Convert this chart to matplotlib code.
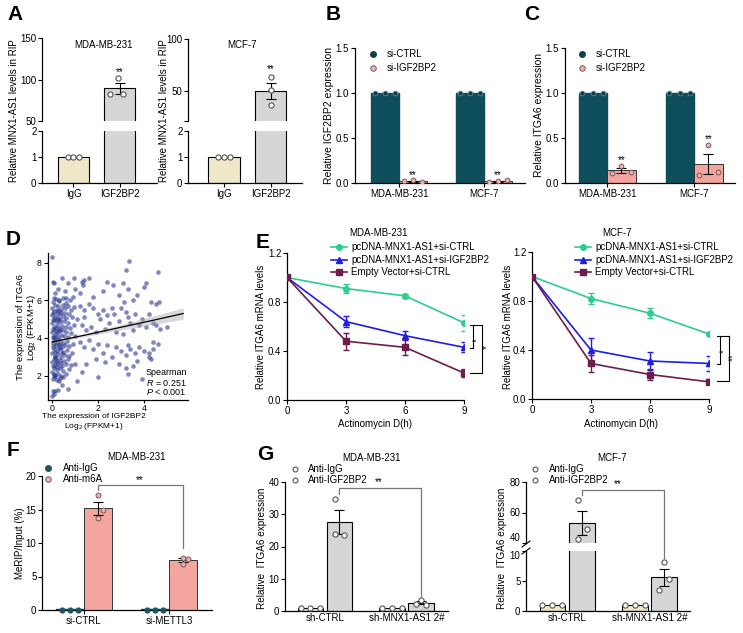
import matplotlib.pyplot as plt
import numpy as np
from matplotlib.lines import Line2D

plt.rcParams['font.family'] = ['Liberation Sans', 'DejaVu Sans']
plt.rcParams['mathtext.fontset'] = 'custom'
plt.rcParams['mathtext.rm'] = 'Liberation Sans'
plt.rcParams['mathtext.it'] = 'Liberation Sans:italic'
plt.rcParams['axes.linewidth'] = 0.9

# ---------------- data ----------------
# A: RIP, MNX1-AS1
a_groups = ['IgG', 'IGF2BP2']
a_mda_mean = [1.0, 89.3]
a_mda_sem = [0.0, 6.5]
a_mda_pts = [[1.0, 1.0, 1.0], [83.0, 102.0, 83.0]]
a_mcf_mean = [1.0, 50.0]
a_mcf_sem = [0.0, 8.0]
a_mcf_pts = [[1.0, 1.0, 1.0], [63.0, 51.0, 36.0]]

# B / C: si-CTRL vs si-IGF2BP2
bc_groups = ['MDA-MB-231', 'MCF-7']
b_ctrl = [1.0, 1.0]
b_si = [0.02, 0.02]
b_si_sem = [0.005, 0.005]
b_si_pts = [[0.02, 0.03, 0.01], [0.01, 0.02, 0.03]]
c_ctrl = [1.0, 1.0]
c_si = [0.14, 0.21]
c_si_sem = [0.03, 0.11]
c_si_pts = [[0.11, 0.19, 0.12], [0.09, 0.42, 0.12]]

# D: scatter IGF2BP2 vs ITGA6
d_pts = [
    (0.0, 8.3), (3.35, 8.1), (3.2, 7.6), (4.6, 7.5), (0.05, 7.0), (0.1, 6.9),
    (0.25, 6.6), (0.15, 6.4), (0.45, 7.2), (0.55, 6.5), (0.7, 6.9), (0.95, 7.2),
    (1.0, 6.6), (1.3, 7.0), (1.4, 7.1), (1.6, 7.2), (1.35, 6.8), (1.2, 6.4),
    (1.8, 6.2), (2.4, 7.0), (2.65, 6.8), (3.1, 6.9), (3.3, 6.6), (4.0, 6.7),
    (4.1, 6.9), (3.7, 6.3), (2.9, 6.3), (2.2, 6.5), (3.5, 6.0), (3.15, 5.9),
    (4.3, 5.9), (4.5, 5.8), (4.65, 5.9), (0.9, 6.2), (0.3, 6.0), (0.6, 6.1),
    (1.2, 5.7), (1.4, 5.5), (1.6, 5.8), (1.8, 5.6), (2.0, 5.3), (2.2, 5.5),
    (2.4, 5.2), (2.1, 5.0), (2.6, 5.6), (2.7, 5.3), (2.5, 4.8), (2.9, 4.9),
    (3.0, 5.6), (3.2, 5.4), (3.3, 5.1), (3.4, 4.8), (3.6, 5.3), (3.8, 4.7),
    (3.9, 5.0), (4.2, 5.3), (4.1, 4.6), (4.4, 4.8), (4.5, 4.7), (4.7, 4.5),
    (5.0, 4.6), (1.3, 4.7), (1.5, 4.4), (1.7, 4.6), (1.9, 4.3), (2.3, 4.5),
    (2.8, 4.3), (3.1, 4.2), (3.5, 4.4), (1.1, 5.0), (1.4, 5.1),
    (1.2, 3.8), (1.4, 3.5), (1.6, 3.9), (1.8, 3.4), (2.0, 3.7), (2.2, 3.2),
    (2.4, 3.6), (2.6, 3.0), (2.8, 3.5), (3.0, 3.3), (3.2, 3.1), (3.3, 3.6),
    (3.4, 3.4), (3.6, 3.2), (3.8, 3.5), (4.0, 3.3), (4.2, 3.0), (4.4, 3.4),
    (4.6, 3.7), (4.3, 2.9), (3.7, 2.8), (3.5, 2.5), (3.2, 2.4), (3.9, 1.8),
    (3.3, 2.1), (2.0, 1.9), (1.5, 2.6), (1.3, 2.2), (1.1, 1.7), (1.0, 2.6),
    (1.9, 2.9), (2.3, 2.7), (2.9, 2.6), (4.2, 3.2), (4.4, 3.8),
    (0.0, 0.9), (0.1, 1.0), (0.05, 1.2), (0.15, 1.2), (0.25, 1.25), (0.7, 1.3),
    (0.45, 1.5), (0.3, 1.7),
    (0.05, 5.9), (0.18, 6.05), (0.32, 5.95), (0.5, 6.1), (0.62, 5.85), (0.78, 6.0),
    (0.1, 6.15), (0.02, 5.6), (0.12, 5.75), (0.22, 5.5), (0.28, 5.7), (0.38, 5.55),
    (0.46, 5.78), (0.58, 5.6), (0.7, 5.72), (0.85, 5.5), (0.95, 5.65), (0.08, 5.45),
    (0.0, 5.2), (0.06, 5.35), (0.14, 5.1), (0.2, 5.3), (0.27, 5.05), (0.33, 5.25),
    (0.41, 5.4), (0.48, 5.15), (0.55, 5.32), (0.63, 5.05), (0.74, 5.25), (0.88, 5.1),
    (0.1, 5.0), (0.36, 5.0), (0.02, 4.8), (0.09, 4.6), (0.16, 4.9), (0.23, 4.7),
    (0.3, 4.55), (0.37, 4.85), (0.44, 4.65), (0.52, 4.9), (0.6, 4.6), (0.68, 4.78),
    (0.8, 4.55), (0.95, 4.7), (0.05, 4.5), (0.26, 4.95), (0.0, 4.3), (0.07, 4.1),
    (0.13, 4.4), (0.19, 4.2), (0.25, 4.05), (0.31, 4.35), (0.39, 4.15), (0.46, 4.42),
    (0.54, 4.1), (0.62, 4.3), (0.72, 4.05), (0.84, 4.25), (1.0, 4.1), (0.11, 4.0),
    (0.35, 4.45), (0.03, 3.7), (0.1, 3.9), (0.17, 3.55), (0.22, 3.8), (0.29, 3.6),
    (0.35, 3.9), (0.42, 3.5), (0.49, 3.75), (0.57, 3.6), (0.66, 3.85), (0.76, 3.55),
    (0.9, 3.7), (0.06, 3.5), (0.2, 3.95), (0.0, 3.2), (0.08, 3.4), (0.14, 3.05),
    (0.21, 3.3), (0.27, 3.15), (0.34, 3.42), (0.4, 3.0), (0.47, 3.25), (0.56, 3.1),
    (0.64, 3.35), (0.73, 3.05), (0.86, 3.2), (0.12, 3.0), (0.3, 3.45), (0.02, 2.7),
    (0.09, 2.9), (0.15, 2.55), (0.22, 2.8), (0.28, 2.6), (0.36, 2.85), (0.43, 2.5),
    (0.51, 2.75), (0.6, 2.6), (0.7, 2.9), (0.82, 2.55), (0.05, 2.5), (0.18, 2.95),
    (0.0, 2.2), (0.07, 2.4), (0.13, 2.05), (0.2, 2.3), (0.26, 2.1), (0.33, 2.38),
    (0.41, 2.0), (0.5, 2.25), (0.6, 2.1), (0.75, 2.35), (0.1, 2.0), (0.24, 2.45),
    (0.03, 1.8), (0.12, 1.9), (0.22, 1.75), (0.35, 1.85), (0.5, 1.9),
    (0.04, 4.95), (0.16, 4.55), (0.24, 4.3), (0.33, 3.7), (0.12, 3.25), (0.19, 2.7),
    (0.07, 2.1), (0.28, 5.45), (0.44, 3.2), (0.39, 2.65), (0.15, 3.75), (0.05, 4.05),
]
reg_x = [0.0, 0.5, 1.5, 3.0, 4.5, 5.7]
reg_y = [3.78, 3.91, 4.17, 4.57, 4.97, 5.3]
reg_w = [0.08, 0.06, 0.08, 0.15, 0.23, 0.3]

# E: actinomycin D decay
e_time = [0, 3, 6, 9]
e_labels = ['pcDNA-MNX1-AS1+si-CTRL', 'pcDNA-MNX1-AS1+si-IGF2BP2', 'Empty Vector+si-CTRL']
e_mda = [[1.0, 0.91, 0.85, 0.63], [1.0, 0.64, 0.525, 0.43], [1.0, 0.48, 0.43, 0.22]]
e_mda_sem = [[0, 0.04, 0.015, 0.065], [0, 0.045, 0.035, 0.04], [0, 0.07, 0.065, 0.035]]
e_mcf = [[1.0, 0.82, 0.70, 0.53], [1.0, 0.40, 0.31, 0.29], [1.0, 0.29, 0.20, 0.14]]
e_mcf_sem = [[0, 0.045, 0.04, 0.005], [0, 0.095, 0.07, 0.06], [0, 0.07, 0.045, 0.02]]

# F: MeRIP
f_groups = ['si-CTRL', 'si-METTL3']
f_igg = [0.1, 0.1]
f_m6a = [15.2, 7.4]
f_m6a_sem = [0.95, 0.3]
f_m6a_pts = [[13.7, 17.1, 15.0], [6.9, 7.8, 7.6]]

# G: RIP ITGA6
g_groups = ['sh-CTRL', 'sh-MNX1-AS1 2#']
g_mda_igg = [1.0, 1.0]
g_mda_ab = [27.6, 2.5]
g_mda_sem = [3.6, 0.45]
g_mda_pts = [[24.0, 34.8, 23.5], [2.2, 3.5, 2.0]]
g_mcf_igg = [1.0, 1.0]
g_mcf_ab = [53.3, 5.6]
g_mcf_sem = [7.8, 1.35]
g_mcf_pts = [[42.9, 68.4, 48.9], [3.5, 8.1, 5.3]]

# ---------------- style ----------------
beige = '#EEE8C8'
grey = '#D6D6D6'
teal = '#0E4D5C'
pink = '#F5A5A0'
pink_pt = '#E9B3B3'
e_colors = ['#2ECC8F', '#1E1EE6', '#6B1D4E']
e_markers = ['o', '^', 's']
jit = [-0.12, 0.0, 0.12]

W, H = 743, 633
fig = plt.figure(figsize=(W / 100, H / 100), dpi=100)


def box(l, t, r, b):
    return fig.add_axes([l / W, 1 - b / H, (r - l) / W, (b - t) / H])


def style(ax, fs=7):
    ax.spines['top'].set_visible(False)
    ax.spines['right'].set_visible(False)
    ax.tick_params(labelsize=fs, length=3, width=0.8, pad=1.5)


def ftext(x, y, s, **kw):
    kw.setdefault('fontsize', 7)
    kw.setdefault('ha', 'center')
    kw.setdefault('va', 'center')
    fig.text(x / W, 1 - y / H, s, **kw)


def fline(xs, ys, **kw):
    fig.add_artist(Line2D([x / W for x in xs], [1 - y / H for y in ys],
                          transform=fig.transFigure, **kw))


def dots(ax, x, vals, offs, **kw):
    kw.setdefault('clip_on', True)
    ax.scatter([x + o for o in offs], vals, zorder=5, **kw)


def panel_letter(x, y, s):
    ftext(x, y, s, fontsize=15, fontweight='bold')


hollow = dict(s=14, facecolor='white', edgecolor='#555555', linewidths=0.8)
err_kw = dict(fmt='none', ecolor='black', elinewidth=0.8, capsize=3.5, capthick=0.8, zorder=4)

# ---------------- A ----------------
def panel_a(l, r, up_tb, lo_tb, ylim_up, yt_up, ytl_up, xlim, mean, sem, pts, offs, star_y):
    up = box(l, up_tb[0], r, up_tb[1])
    lo = box(l, lo_tb[0], r, lo_tb[1])
    x = np.arange(len(a_groups))
    for ax in (up, lo):
        ax.bar(x, mean, width=0.667, color=[beige, grey], edgecolor='black', linewidth=0.8)
        ax.errorbar(x[1:], mean[1:], yerr=sem[1:], **err_kw)
        for i in x:
            dots(ax, i, pts[i], offs[i], **hollow)
        ax.set_xlim(xlim)
        style(ax)
        ax.tick_params(axis='y', pad=1)
    up.set_ylim(ylim_up)
    up.set_yticks(yt_up, ytl_up)
    up.spines['bottom'].set_visible(False)
    up.tick_params(axis='x', bottom=False, labelbottom=False)
    lo.set_ylim(0, 2)
    lo.set_yticks([0, 1, 2])
    lo.set_xticks(x, a_groups)
    up.text(1, star_y, '**', ha='center', va='bottom', fontsize=7)


panel_a(42, 157, (38, 121), (131, 183), (50, 150), [50, 100, 150], ['50', '100', '150'],
        (-0.677, 1.796), a_mda_mean, a_mda_sem, a_mda_pts,
        [jit, [-0.21, -0.04, 0.07]], 103)
panel_a(188, 302, (39, 121), (131, 183), (21, 100), [21, 50, 100], ['', '50', '100'],
        (-0.774, 1.677), a_mcf_mean, a_mcf_sem, a_mcf_pts,
        [jit, [0, 0, 0]], 66)
ftext(104, 45, 'MDA-MB-231')
ftext(242, 45, 'MCF-7')
ftext(14, 111, 'Relative MNX1-AS1 levels in RIP', rotation=90, fontsize=7)
ftext(164, 111, 'Relative MNX1-AS1 levels in RIP', rotation=90, fontsize=7)
panel_letter(15, 15, 'A')


# ---------------- B / C ----------------
def panel_bc(l, r, ctrl, si, sem, pts, ylab, ylab_x, leg_x, star_off):
    ax = box(l, 48, r, 183)
    x = np.arange(len(bc_groups))
    ax.bar(x - 0.165, ctrl, width=0.325, color=teal, edgecolor=teal)
    ax.bar(x + 0.165, si, width=0.325, color=pink, edgecolor='#333333', linewidth=0.7)
    ax.errorbar(x + 0.165, si, yerr=sem, **err_kw)
    for i in x:
        dots(ax, i - 0.165, [ctrl[i]] * 3, jit, s=12, color='#103F4C', edgecolors='#6E8E96', linewidths=0.5)
        dots(ax, i + 0.165, pts[i], [o * 0.9 for o in jit], s=12, facecolor=pink_pt,
             edgecolors='#6A4A4A', linewidths=0.6)
        ax.text(i + 0.165, max(pts[i]) + star_off, '**', ha='center', va='bottom', fontsize=7)
    ax.set_ylim(0, 1.5)
    ax.set_yticks([0, 0.5, 1.0, 1.5], ['0.0', '0.5', '1.0', '1.5'])
    ax.set_xticks(x, bc_groups)
    ax.tick_params(axis='x', length=0)
    style(ax)
    ftext(ylab_x, 115, ylab, rotation=90, fontsize=7.5)
    fline([leg_x], [54], marker='o', ms=4, color='#103F4C', mec='#103F4C')
    fline([leg_x], [68], marker='o', ms=4, color=pink_pt, mec='#6A4A4A', mew=0.6)
    ftext(leg_x + 14, 54, 'si-CTRL', ha='left')
    ftext(leg_x + 14, 68, 'si-IGF2BP2', ha='left')
    return ax


axb = panel_bc(355, 525, b_ctrl, b_si, b_si_sem, b_si_pts, 'Relative IGF2BP2 expression', 329, 373, 0.0)
axb.set_xlim(-0.518, 1.48)
axc = panel_bc(565, 735, c_ctrl, c_si, c_si_sem, c_si_pts, 'Relative ITGA6 expression', 539, 582, 0.01)
axc.set_xlim(-0.483, 1.471)
panel_letter(333, 15, 'B')
panel_letter(532, 15, 'C')

# ---------------- D ----------------
axd = box(48, 253, 188, 400)
d_x, d_y = zip(*d_pts)
axd.scatter(d_x, d_y, s=11, color='#2B3990', alpha=0.6, linewidths=0)
axd.fill_between(reg_x, np.array(reg_y) - np.array(reg_w), np.array(reg_y) + np.array(reg_w),
                 color='#AAAAAA', alpha=0.45, lw=0)
axd.plot(reg_x, reg_y, color='black', lw=0.9)
axd.set_xlim(-0.17, 5.91)
axd.set_ylim(0.7, 8.52)
axd.set_xticks([0, 2, 4])
axd.set_yticks([2, 4, 6, 8])
style(axd, 6.3)
axd.tick_params(axis='x', pad=0.5, length=2.5)
axd.text(5.86, 2.17, 'Spearman', ha='right', va='center', fontsize=6.5)
axd.text(5.86, 1.62, '$R$ = 0.251', ha='right', va='center', fontsize=6.5)
axd.text(5.86, 1.11, '$P$ < 0.001', ha='right', va='center', fontsize=6.5)
ftext(21, 327, 'The expression of ITGA6', rotation=90, fontsize=6.8)
ftext(31, 327, 'Log$_2$ (FPKM+1)', rotation=90, fontsize=6.8)
ftext(94, 417, 'The expression of IGF2BP2', fontsize=6)
ftext(94, 427, 'Log$_2$ (FPKM+1)', fontsize=6)
panel_letter(13, 240, 'D')


# ---------------- E ----------------
def panel_e(l, t, r, b, series, sems, title, tx, leg_x, ylab_x):
    ax = box(l, t, r, b)
    for k in range(3):
        ax.errorbar(e_time, series[k], yerr=sems[k], color=e_colors[k], marker=e_markers[k],
                    ms=4, lw=1.2, elinewidth=1, capsize=2.5, capthick=1, zorder=3 + k)
    ax.set_xlim(0, 9)
    ax.set_ylim(0, 1.2)
    ax.set_xticks(e_time)
    ax.set_yticks([0, 0.4, 0.8, 1.2], ['0.0', '0.4', '0.8', '1.2'])
    style(ax)
    ax.tick_params(axis='y', pad=1)
    ftext(tx, 233, title)
    for k in range(3):
        y = 247 + 12.5 * k
        fline([leg_x - 8, leg_x, leg_x + 8], [y, y, y], color=e_colors[k], lw=1.2,
              marker=e_markers[k], ms=4, markevery=[1])
        ftext(leg_x + 12, y, e_labels[k], ha='left')
    ftext(ylab_x, 327, 'Relative ITGA6 mRNA levels', rotation=90, fontsize=7)
    ftext((l + r) / 2, 424, 'Actinomycin D(h)')
    return ax


axe1 = panel_e(287, 253, 464, 400, e_mda, e_mda_sem, 'MDA-MB-231', 379, 339, 261)
br = dict(color='black', lw=0.8, clip_on=False)
axe1.plot([9.30, 9.92], [0.612, 0.612], **br)
axe1.plot([9.46, 9.46, 9.30], [0.612, 0.424, 0.424], **br)
axe1.plot([9.92, 9.92, 9.30], [0.612, 0.22, 0.22], **br)
axe1.text(9.68, 0.49, '*', fontsize=7, ha='center', va='center', rotation=90)
axe1.text(10.15, 0.435, '*', fontsize=7, ha='center', va='center', rotation=90)

axe2 = panel_e(532, 252, 709, 399, e_mcf, e_mcf_sem, 'MCF-7', 617, 583, 508)
axe2.plot([9.41, 10.0], [0.514, 0.514], **br)
axe2.plot([9.56, 9.56, 9.41], [0.514, 0.286, 0.286], **br)
axe2.plot([10.0, 10.0, 9.41], [0.514, 0.147, 0.147], **br)
axe2.text(9.75, 0.39, '*', fontsize=7, ha='center', va='center', rotation=90)
axe2.text(10.22, 0.345, '**', fontsize=7, ha='center', va='center', rotation=90)
panel_letter(263, 242, 'E')

# ---------------- F ----------------
axf = box(42, 476, 212, 610)
xf = np.arange(len(f_groups))
axf.bar(xf - 0.165, f_igg, width=0.32, color=teal, edgecolor=teal)
axf.bar(xf + 0.165, f_m6a, width=0.32, color=pink, edgecolor='#333333', linewidth=0.7)
axf.errorbar(xf + 0.165, f_m6a, yerr=f_m6a_sem, **err_kw)
for i in xf:
    dots(axf, i - 0.165, [0.0] * 3, [-0.09, 0, 0.09], s=12, color='#1F5563', clip_on=False)
    dots(axf, i + 0.165, f_m6a_pts[i], [0.0, 0.0, 0.06], s=13, facecolor=pink_pt,
         edgecolors='#6A4A4A', linewidths=0.6)
axf.set_xlim(-0.494, 1.506)
axf.set_ylim(0, 20)
axf.set_yticks([0, 5, 10, 15, 20])
axf.set_xticks(xf, f_groups)
axf.tick_params(axis='x', length=0)
style(axf)
axf.tick_params(axis='y', pad=1)
axf.plot([0.165, 0.165, 1.165, 1.165], [17.9, 18.66, 18.66, 9.25], color='#777777', lw=0.9)
axf.text(0.66, 18.7, '**', ha='center', va='bottom', fontsize=7)
ftext(137, 457, 'MDA-MB-231')
fline([48], [468], marker='o', ms=4, color='#1F5563')
fline([48], [479], marker='o', ms=4, color=pink_pt, mec='#6A4A4A', mew=0.6)
ftext(63, 468, 'Anti-IgG', ha='left')
ftext(63, 479, 'Anti-m6A', ha='left')
ftext(20, 543, 'MeRIP/Input (%)', rotation=90, fontsize=7)
panel_letter(13, 450, 'F')

# ---------------- G ----------------
xg = np.arange(len(g_groups))


def g_bars(ax, igg, ab, sem, pts):
    ax.bar(xg - 0.178, igg, width=0.31, color=beige, edgecolor='black', linewidth=0.8)
    ax.bar(xg + 0.178, ab, width=0.31, color=grey, edgecolor='black', linewidth=0.8)
    ax.errorbar(xg + 0.178, ab, yerr=sem, **err_kw)
    for i in xg:
        dots(ax, i - 0.178, [igg[i]] * 3, jit, **hollow)
        dots(ax, i + 0.178, pts[i], [-0.05, -0.05, 0.06] if i == 0 else [-0.06, 0.0, 0.06], **hollow)
    style(ax)
    ax.tick_params(axis='y', pad=1)


def g_legend(mx, tx):
    fline([mx], [469], marker='o', ms=3.5, mfc='white', mec='#555555', mew=0.8)
    fline([mx], [480], marker='o', ms=3.5, mfc='white', mec='#555555', mew=0.8)
    ftext(tx, 469, 'Anti-IgG', ha='left')
    ftext(tx, 480, 'Anti-IGF2BP2', ha='left')


axg = box(285, 482, 448, 611)
g_bars(axg, g_mda_igg, g_mda_ab, g_mda_sem, g_mda_pts)
axg.set_xlim(-0.49, 1.51)
axg.set_ylim(0, 40)
axg.set_yticks([0, 10, 20, 30, 40])
axg.set_xticks(xg, g_groups)
axg.tick_params(axis='x', length=0)
axg.plot([0.178, 0.178, 1.178, 1.178], [36.3, 38.1, 38.1, 4.5], color='#777777', lw=0.9, clip_on=False)
axg.text(0.66, 38.3, '**', ha='center', va='bottom', fontsize=7)
ftext(372, 458, 'MDA-MB-231')
g_legend(295, 308)
ftext(262, 548, 'Relative  ITGA6 expression', rotation=90, fontsize=7.2)
panel_letter(265, 455, 'G')

gu = box(526, 482, 690, 543)
gl = box(526, 551, 690, 611)
for ax in (gu, gl):
    g_bars(ax, g_mcf_igg, g_mcf_ab, g_mcf_sem, g_mcf_pts)
    ax.set_xlim(-0.497, 1.49)
gu.set_ylim(40, 80)
gu.set_yticks([40, 60, 80])
gu.get_yticklabels()[0].set_va('bottom')
gu.spines['bottom'].set_visible(False)
gu.tick_params(axis='x', bottom=False, labelbottom=False)
gl.set_ylim(0, 10)
gl.set_yticks([0, 5, 10])
gl.get_yticklabels()[-1].set_va('top')
gl.set_xticks(xg, g_groups)
gl.tick_params(axis='x', length=0)
gu.plot([0.178, 0.178, 1.178, 1.178], [71.5, 74.8, 74.8, 30], color='#777777', lw=0.9, clip_on=False)
gl.plot([1.178, 1.178], [10, 8.9], color='#777777', lw=0.9, clip_on=False)
gu.text(0.62, 75.2, '**', ha='center', va='bottom', fontsize=7)
fline([522, 530], [547, 541], color='black', lw=0.8)
fline([522, 530], [554, 548], color='black', lw=0.8)
ftext(612, 458, 'MCF-7')
g_legend(535, 549)
ftext(502, 548, 'Relative  ITGA6 expression', rotation=90, fontsize=7.2)

fig.savefig('out.png', dpi=100)
